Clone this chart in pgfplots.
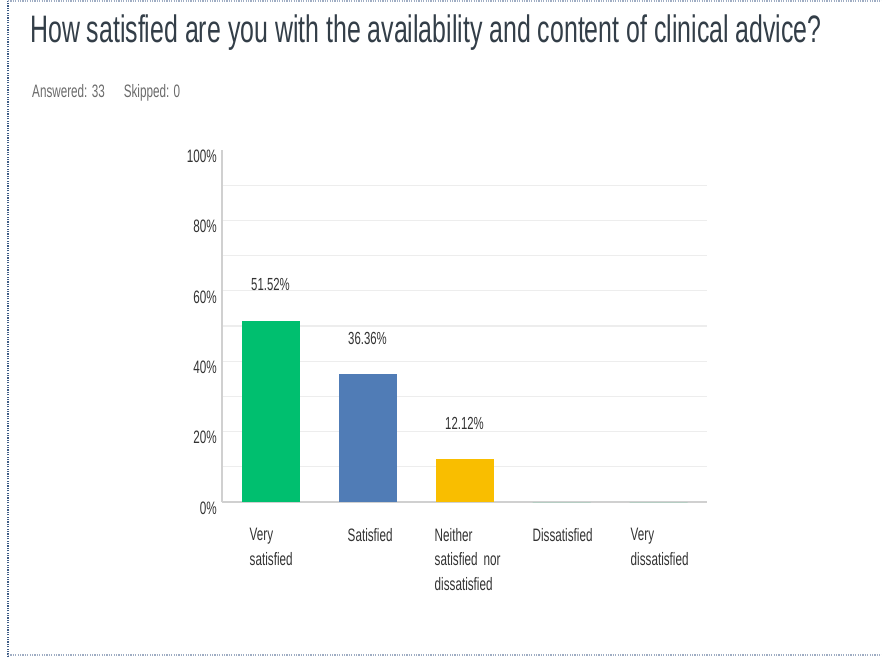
\documentclass[border=0pt]{standalone}
\usepackage{fontspec}
\setmainfont{Liberation Sans}[FakeStretch=0.65]
\usepackage{pgfplots}
\pgfplotsset{compat=1.18}
\definecolor{vgreen}{HTML}{00BF6F}
\definecolor{vblue}{HTML}{507CB6}
\definecolor{vyellow}{HTML}{F9BE00}
\definecolor{gridc}{HTML}{EDEDED}
\definecolor{axisc}{HTML}{D0D0D0}
\definecolor{txt}{HTML}{333333}
\definecolor{titlec}{HTML}{333E48}
\definecolor{subc}{HTML}{6B6B6B}
\definecolor{dotc}{HTML}{3E5C86}
\begin{document}
\begin{tikzpicture}[x=1pt,y=1pt]
\useasboundingbox (0,0) rectangle (882,657);
\fill[white] (0,0) rectangle (882,657);
\draw[dotc, line width=1.2pt, dash pattern=on 1.2pt off 1.2pt] (8,0) -- (8,657);
\draw[dotc!50, line width=1.2pt, dash pattern=on 1.2pt off 1.2pt] (8,2) -- (882,2);
\draw[dotc!50, line width=1.2pt, dash pattern=on 1.2pt off 1.2pt] (8,656) -- (882,656);
\node[anchor=base west, inner sep=0, text=titlec, font=\fontsize{38.3}{44}\selectfont] at (30,614) {How satisfied are you with the availability and content of clinical advice?};
\node[anchor=west, inner sep=0, text=subc, font=\fontsize{18}{21}\selectfont] at (32,564) {Answered: 33\hspace{19pt}Skipped: 0};
\begin{axis}[
  at={(222pt,155pt)}, anchor=south west,
  scale only axis, width=485pt, height=352pt,
  xmin=-0.5, xmax=4.5, ymin=0, ymax=100,
  axis x line*=bottom, axis y line*=left,
  x axis line style={-, draw=axisc, line width=2pt},
  y axis line style={-, draw=axisc, line width=1.3pt},
  major tick length=0pt,
  xtick={0,1,2,3,4},
  xticklabels={{\hspace*{6pt}Very\\\hspace*{6pt}satisfied},{\hspace*{7pt}Satisfied},{\hspace*{-3pt}Neither\\\hspace*{-3pt}satisfied nor\\\hspace*{-3pt}dissatisfied},{\hspace*{-2pt}Dissatisfied},{\hspace*{-1pt}Very\\\hspace*{-1pt}dissatisfied}},
  xticklabel style={anchor=north west, align=left, text width=90pt, inner sep=0pt, xshift=-27pt, yshift=-26pt,
    font=\fontsize{18}{24.5}\selectfont, text=txt},
  ytick={10,20,...,90},
  yticklabels={},
  ymajorgrids,
  major grid style={draw=gridc, line width=1.3pt},
  extra y ticks={0,20,40,60,80,100},
  extra y tick labels={0\%,20\%,40\%,60\%,80\%,100\%},
  extra y tick style={grid=none, yticklabel style={anchor=east, inner sep=0pt, xshift=-5pt, yshift=-6pt, font=\fontsize{18}{21}\selectfont, text=txt}},
  clip=false,
  /pgf/number format/assume math mode=true,
  nodes near coords={\pgfmathprintnumber[fixed,precision=2,fixed zerofill]{\pgfplotspointmeta}\%},
  every node near coord/.append style={anchor=center, yshift=36pt, font=\fontsize{17.5}{20}\selectfont, text=txt},
]
\addplot[ybar, bar width=58pt, bar shift=0pt, fill=vgreen, draw=none] coordinates {(0,51.52)};
\addplot[ybar, bar width=58pt, bar shift=0pt, fill=vblue, draw=none] coordinates {(1,36.36)};
\addplot[ybar, bar width=58pt, bar shift=0pt, fill=vyellow, draw=none] coordinates {(2,12.12)};
\addplot[ybar, bar width=58pt, bar shift=0pt, fill=vgreen, draw=none, nodes near coords={}] coordinates {(3,0) (4,0)};
\end{axis}
\end{tikzpicture}
\end{document}
